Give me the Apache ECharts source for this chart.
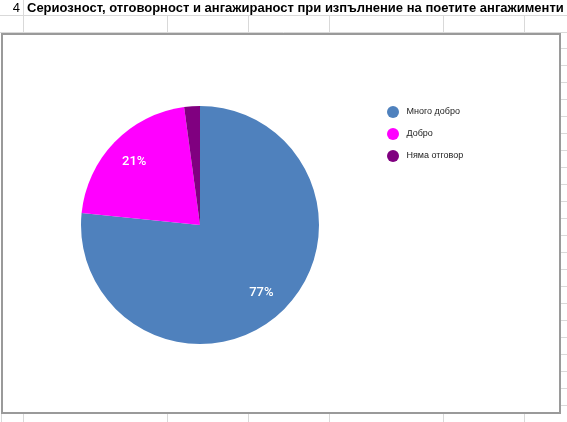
<!DOCTYPE html>
<html>
<head>
<meta charset="utf-8">
<script src="https://cdn.jsdelivr.net/npm/echarts@6/dist/echarts.min.js"></script>
<style>
html,body{margin:0;padding:0;background:#fff;}
#c{width:567px;height:422px;}
</style>
</head>
<body>
<div id="c"></div>
<script>
const rowNumber = '4';
const titleText = 'Сериозност, отговорност и ангажираност при изпълнение на поетите ангажименти';
const categories = ['Много добро', 'Добро', 'Няма отговор'];
const values = [36, 10, 1];
const colors = ['#4f81bd', '#ff00ff', '#800080'];

const chart = echarts.init(document.getElementById('c'));
const gridColor = '#d9d9d9';
const gl = [];
function line(x1, y1, x2, y2, color, w) {
  gl.push({type: 'line', silent: true, z: 0,
    shape: {x1: x1, y1: y1, x2: x2, y2: y2},
    style: {stroke: color || gridColor, lineWidth: w || 1}});
}
// spreadsheet grid
line(0, 15.5, 567, 15.5);
line(0, 32.5, 567, 32.5);
line(23.5, 0, 23.5, 15);
const colX = [23.5, 167.5, 248.5, 329.5, 443.5, 524.5];
colX.forEach(x => { line(x, 15, x, 32); line(x, 414, x, 422); });
line(1.5, 414, 1.5, 422);
for (let y = 48.5; y < 422; y += 17) line(561, y, 567, y);

gl.push({type: 'rect', silent: true, z: 1,
  shape: {x: 2, y: 34, width: 558, height: 379},
  style: {fill: '#fff', stroke: '#9a9a9a', lineWidth: 2}});
gl.push({type: 'text', silent: true, z: 2, x: 20, y: 8,
  style: {text: rowNumber, fill: '#000', font: '13px "Liberation Sans", Arial', align: 'right', verticalAlign: 'middle'}});
gl.push({type: 'text', silent: true, z: 2, x: 27, y: 8,
  style: {text: titleText, fill: '#000', font: 'bold 13px "Liberation Sans", Arial', align: 'left', verticalAlign: 'middle'}});

const data = categories.map((n, i) => ({name: n, value: values[i], itemStyle: {color: colors[i]}}));

chart.setOption({
  animation: false,
  graphic: {elements: gl},
  legend: {
    orient: 'vertical',
    left: 382,
    top: 101,
    icon: 'circle',
    itemWidth: 17,
    itemHeight: 12,
    itemGap: 10,
    data: categories,
    textStyle: {fontFamily: '"Liberation Sans", Arial', fontSize: 9, color: '#222'}
  },
  series: [
    {
      type: 'pie',
      center: [200, 225],
      radius: [0, 119],
      startAngle: 90,
      clockwise: true,
      z: 5,
      silent: true,
      label: {show: false},
      labelLine: {show: false},
      emphasis: {disabled: true},
      itemStyle: {borderWidth: 0},
      data: data
    },
    {
      type: 'pie',
      center: [200, 225],
      radius: [58, 119],
      startAngle: 90,
      clockwise: true,
      z: 6,
      silent: true,
      minShowLabelAngle: 12,
      label: {show: true, position: 'inside', formatter: p => Math.round(p.percent) + '%',
        color: '#fff', fontFamily: 'Roboto', fontSize: 13, fontWeight: 500},
      labelLine: {show: false},
      emphasis: {disabled: true},
      itemStyle: {color: 'rgba(0,0,0,0)', borderWidth: 0},
      data: categories.map((n, i) => ({name: n, value: values[i]}))
    }
  ]
});
</script>
</body>
</html>
